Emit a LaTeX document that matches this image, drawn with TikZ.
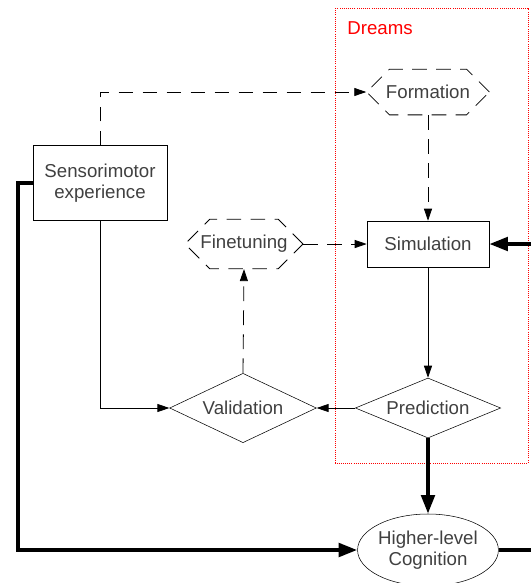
\documentclass[tikz,border=0pt]{standalone}
\usepackage{fontspec}
\setmainfont{Liberation Sans}
\usetikzlibrary{shapes.geometric,shapes.misc,arrows.meta}
\definecolor{txtgray}{HTML}{404040}
\begin{document}
\begin{tikzpicture}[x=0.75pt, y=-0.75pt, font=\fontsize{14}{16}\selectfont,
	every node/.style={text=txtgray, align=center},
	box/.style={draw, rectangle, inner sep=0pt},
	dashbox/.style={draw=black, chamfered rectangle, chamfered rectangle xsep=17pt, chamfered rectangle ysep=12pt, inner sep=0pt, line width=0.6pt, dash pattern=on 11pt off 7pt},
	choice/.style={draw, diamond, inner sep=0pt},
	flow/.style={-{Triangle[length=9pt,width=6pt]}, line width=0.6pt},
	weak/.style={flow, dash pattern=on 11pt off 7pt},
	strong/.style={-{Triangle[length=14pt,width=10pt]}, line width=3pt}]
	\clip (0,0) rectangle (531,583);
	
	% dream region
	\draw[red, densely dotted, line width=0.6pt] (335,8) rectangle (528,463);
	\node[text=red] (dreams) at (380,28) {Dreams};
	
	\node[box, minimum width=100.5pt, minimum height=56pt] (sens) at (100,183) {Sensorimotor\\experience};
	\node[dashbox, minimum width=92pt, minimum height=34pt] (form) at (428,92) {Formation};
	\node[dashbox, minimum width=88.5pt, minimum height=36pt] (fine) at (244,244) {Finetuning};
	\node[box, minimum width=91.5pt, minimum height=34.5pt] (sim) at (428,244) {Simulation};
	\node[choice, aspect=2.1, minimum width=110pt, minimum height=52pt] (valid) at (243,408) {Validation};
	\node[choice, aspect=2.4, minimum width=109pt, minimum height=45pt] (pred) at (428,408) {Prediction};
	\node[draw, ellipse, inner sep=0pt, minimum width=102pt, minimum height=54pt] (cog) at (428,550) {Higher-level\\Cognition};
	
	\draw[weak] (sens.north) |- (form.west);
	\draw[weak] (form.south) -- (sim.north);
	\draw[weak] (fine.east) -- (sim.west);
	\draw[weak] (valid.north) -- (fine.south);
	\draw[flow] (sim.south) -- (pred.north);
	\draw[flow] (pred.west) -- (valid.east);
	\draw[flow] (sens.south) |- (valid.west);
	
	\draw[strong] (pred.south) -- (cog.north);
	\draw[strong] (sens.west) -- ++(-15,0) |- (cog.west);
	\draw[strong] (cog.east) -- ++(60,0) |- (sim.east);
\end{tikzpicture}
\end{document}
